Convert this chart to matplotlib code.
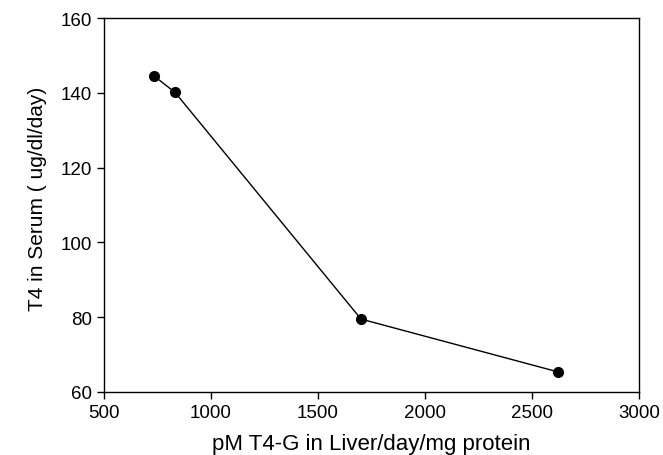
import matplotlib
matplotlib.use('Agg')
import matplotlib.pyplot as plt

plt.rcParams['font.family'] = ['Liberation Sans', 'DejaVu Sans']

# pM T4-G in liver vs T4 in serum
t4g_liver = [734, 832, 1701, 2620]
t4_serum = [144.5, 140.1, 79.5, 65.4]

fig = plt.figure(figsize=(6.63, 4.56), dpi=100)
ax = fig.add_axes([104/663, 1-393/456, 535/663, 374/456])

ax.plot(t4g_liver, t4_serum, color='black', linewidth=1.0,
        marker='o', markersize=7, markerfacecolor='black')

ax.set_xlim(500, 3000)
ax.set_ylim(60, 160)
ax.set_xticks([500, 1000, 1500, 2000, 2500, 3000])
ax.set_yticks([60, 80, 100, 120, 140, 160])

ax.tick_params(direction='out', length=5, width=1, labelsize=13.5,
               top=False, right=False)
for s in ax.spines.values():
    s.set_linewidth(1)

ax.set_xlabel('pM T4-G in Liver/day/mg protein', fontsize=16, labelpad=9)
ax.set_ylabel('T4 in Serum ( ug/dl/day)', fontsize=15)
ax.yaxis.set_label_coords(-0.107, 0.52)

plt.savefig('out.png', dpi=100)
